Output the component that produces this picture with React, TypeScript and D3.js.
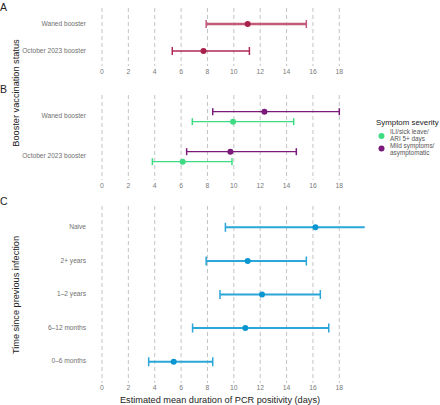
import React from "react";
import * as d3 from "d3";

const ticks = [0, 2, 4, 6, 8, 10, 12, 14, 16, 18];

const boosterCats = ["Waned booster", "October 2023 booster"];
const boosterEst = [11.05, 7.7];
const boosterLo = [7.9, 5.33];
const boosterHi = [15.5, 11.18];

const sevSeries = ["ILI/sick leave/ARI 5+ days", "Mild symptoms/asymptomatic"];
const sevEst = [[9.94, 6.12], [12.32, 9.74]];
const sevLo = [[6.85, 3.82], [8.4, 6.42]];
const sevHi = [[14.54, 9.86], [18.0, 14.74]];

const infCats = ["Naive", "2+ years", "1\u20132 years", "6\u201312 months", "0\u20136 months"];
const infEst = [16.19, 11.05, 12.14, 10.87, 5.44];
const infLo = [9.36, 7.9, 8.95, 6.87, 3.54];
const infHi = [22, 15.5, 16.56, 17.2, 8.4];

const FONT = "'Liberation Sans', Arial, sans-serif";

export default function App() {
  const x = d3.scaleLinear().domain([0, 18]).range([102, 339.3]);
  const clipRight = x(19.93);

  const yA = d3.scalePoint<string>().domain(boosterCats).range([24, 51]);
  const yB = d3.scalePoint<string>().domain(boosterCats).range([116.7, 156.7]);
  const yC = d3.scalePoint<string>().domain(infCats).range([227.3, 361.7]);

  const boosterColors = ["#c25a78", "#b02a55"];
  const boosterPt = ["#a8204c", "#a8204c"];
  const boosterW = [2.4, 1.4];
  const sevColors = ["#3ddc84", "#7b1a7a"];
  const sevOffset = [5, -5];
  const blue = "#2aa6d9";
  const bluePt = "#0a96d0";

  const grid = (y0: number, y1: number, key: string) =>
    ticks.map((t) => (
      <line key={key + t} x1={x(t)} x2={x(t)} y1={y0} y2={y1} stroke="#bdbdbd" strokeWidth={0.9} strokeDasharray="4,3" />
    ));
  const tickLabels = (y: number, key: string) =>
    ticks.map((t) => (
      <text key={key + t} x={x(t)} y={y} fontSize={6.8} fill="#7a7a7a" textAnchor="middle" dominantBaseline="middle">
        {t}
      </text>
    ));
  const catLabels = (cats: string[], scale: (s: string) => number | undefined, key: string) =>
    cats.map((c) => (
      <text key={key + c} x={86} y={scale(c)} fontSize={6.6} fill="#707070" textAnchor="end" dominantBaseline="middle">
        {c}
      </text>
    ));
  const errBar = (
    y: number, lo: number, est: number, hi: number, color: string, ptColor: string,
    w: number, capH: number, key: string
  ) => {
    const xl = x(lo), xh = x(hi);
    return (
      <g key={key}>
        <line x1={xl} x2={xh} y1={y} y2={y} stroke={color} strokeWidth={w} />
        <line x1={xl} x2={xl} y1={y - capH / 2} y2={y + capH / 2} stroke={color} strokeWidth={1.5} />
        {xh <= clipRight && (
          <line x1={xh} x2={xh} y1={y - capH / 2} y2={y + capH / 2} stroke={color} strokeWidth={1.5} />
        )}
        <circle cx={x(est)} cy={y} r={3} fill={ptColor} />
      </g>
    );
  };

  return (
    <svg width={440} height={405} style={{ position: "absolute", left: 0, top: 0, fontFamily: FONT }}>
      <defs>
        <clipPath id="plotclip">
          <rect x={0} y={0} width={clipRight} height={405} />
        </clipPath>
      </defs>
      <rect width={440} height={405} fill="#fff" />

      {/* Panel letters */}
      <text x={0} y={11} fontSize={10.5} fill="#222">A</text>
      <text x={0} y={93} fontSize={10.5} fill="#222">B</text>
      <text x={0} y={205} fontSize={10.5} fill="#222">C</text>

      {/* Axis titles */}
      <text transform="translate(18.5,93) rotate(-90)" fontSize={9.2} fill="#222" textAnchor="middle">
        Booster vaccination status
      </text>
      <text transform="translate(18.5,295) rotate(-90)" fontSize={9.2} fill="#222" textAnchor="middle">
        Time since previous infection
      </text>
      <text x={220} y={403} fontSize={9.2} fill="#222" textAnchor="middle">
        Estimated mean duration of PCR positivity (days)
      </text>

      {/* Panel A */}
      {grid(8, 66, "ga")}
      {tickLabels(72, "ta")}
      {catLabels(boosterCats, yA, "la")}
      {boosterCats.map((c, i) =>
        errBar(yA(c)!, boosterLo[i], boosterEst[i], boosterHi[i], boosterColors[i], boosterPt[i], boosterW[i], 8, "a" + i)
      )}

      {/* Panel B */}
      {grid(95, 180, "gb")}
      {tickLabels(186, "tb")}
      {catLabels(boosterCats, yB, "lb")}
      {sevSeries.map((s, si) =>
        boosterCats.map((c, i) =>
          errBar(yB(c)! + sevOffset[si], sevLo[si][i], sevEst[si][i], sevHi[si][i], sevColors[si], sevColors[si], 1.3, 7, "b" + si + i)
        )
      )}

      {/* Legend */}
      <text x={376} y={125} fontSize={7.9} fill="#222">Symptom severity</text>
      <circle cx={381.5} cy={136} r={3} fill={sevColors[0]} />
      <text x={390} y={134} fontSize={6.4} fill="#555">ILI/sick leave/</text>
      <text x={390} y={141} fontSize={6.4} fill="#555">ARI 5+ days</text>
      <circle cx={381.5} cy={148.5} r={3} fill={sevColors[1]} />
      <text x={390} y={147.5} fontSize={6.4} fill="#555">Mild symptoms/</text>
      <text x={390} y={154.5} fontSize={6.4} fill="#555">asymptomatic</text>

      {/* Panel C */}
      {grid(206, 383, "gc")}
      {tickLabels(388.5, "tc")}
      {catLabels(infCats, yC, "lc")}
      <g clipPath="url(#plotclip)">
        {infCats.map((c, i) =>
          errBar(yC(c)!, infLo[i], infEst[i], infHi[i], blue, bluePt, 2, 9, "c" + i)
        )}
      </g>
    </svg>
  );
}
